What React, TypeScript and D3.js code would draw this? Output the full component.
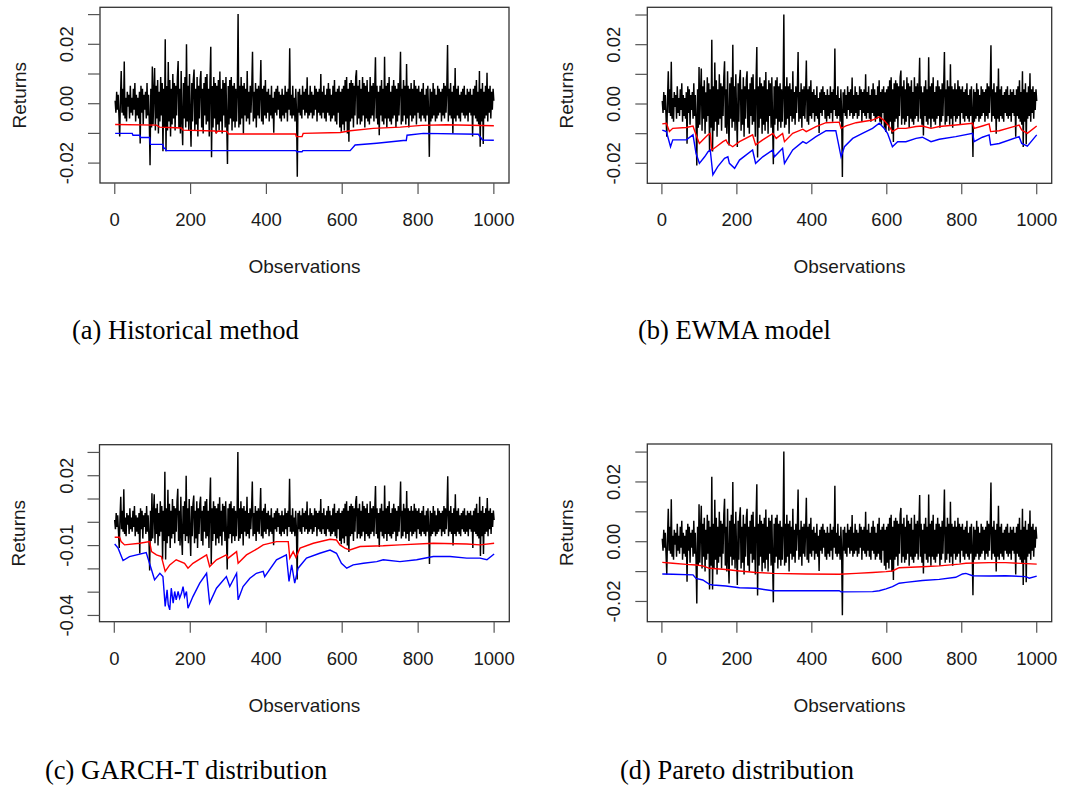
import React from "react";
import * as d3 from "d3";

const W = 1069;
const H = 785;

// Observation axis ticks
const obsTicks = [0, 200, 400, 600, 800, 1000];

// Daily returns (same series in every panel), read every ~2 observations
const returns = [
  0.001, -0.003, 0.004, -0.002, 0.003, -0.004, -0.011, 0.002, 0.011, -0.003,
  0.005, -0.004, 0.0142, -0.005, 0.002, -0.006, 0.004, -0.001, 0.003, -0.005,
  0.006, -0.003, 0.002, -0.004, 0.005, -0.002, 0.007, -0.006, 0.003, -0.004,
  0.002, -0.005, 0.004, -0.0134, 0.006, -0.003, 0.005, -0.007, 0.003, -0.002,
  0.004, -0.005, 0.007, -0.004, 0.003, -0.006, -0.0207, 0.005, -0.008, 0.0125,
  -0.007, 0.004, 0.012, -0.009, 0.006, -0.005, 0.008, -0.01, 0.004, -0.006,
  0.009, -0.004, 0.007, -0.016, 0.005, -0.008, 0.0217, -0.016, 0.006, -0.009,
  0.014, -0.006, 0.008, -0.011, 0.005, -0.007, 0.01, -0.005, 0.007, -0.009,
  0.006, -0.004, 0.009, 0.0144, -0.008, 0.005, -0.01, 0.011, -0.006, -0.014,
  0.007, -0.005, 0.009, -0.008, 0.02, -0.006, 0.006, -0.009, 0.01, -0.004,
  -0.0145, 0.007, -0.006, 0.008, 0.0115, -0.009, 0.005, -0.007, 0.009, -0.011,
  0.006, -0.005, 0.008, 0.011, -0.008, 0.005, -0.01, 0.007, -0.004, 0.009,
  -0.007, 0.01, -0.006, 0.005, -0.011, 0.008, 0.0192, -0.018, 0.006, -0.008,
  0.009, -0.005, 0.007, -0.01, 0.006, -0.007, 0.008, -0.009, 0.0108, -0.006,
  0.005, -0.01, 0.008, -0.004, 0.007, -0.008, 0.009, -0.006, -0.0203, 0.006,
  -0.007, 0.008, -0.005, 0.009, -0.009, 0.006, -0.006, 0.007, -0.008, 0.005,
  -0.006, 0.004, 0.0302, -0.008, 0.006, -0.007, 0.009, -0.005, 0.006, -0.01,
  0.007, -0.004, 0.005, -0.006, 0.011, -0.005, 0.004, -0.007, 0.006, -0.003,
  0.005, 0.0175, -0.006, 0.004, -0.005, 0.007, -0.008, 0.005, -0.004, 0.006,
  -0.005, 0.004, 0.0147, -0.006, 0.005, -0.007, 0.006, -0.004, 0.008, -0.005,
  0.004, -0.003, 0.005, -0.006, 0.003, -0.004, 0.006, -0.005, 0.002, -0.0098,
  0.004, -0.003, 0.005, -0.004, 0.006, -0.002, 0.004, -0.005, 0.003, -0.006,
  0.005, -0.004, 0.003, -0.005, 0.006, -0.003, 0.004, -0.006, 0.005, -0.002,
  0.0187, -0.004, 0.003, -0.005, 0.006, -0.004, 0.002, -0.006, 0.005, -0.003,
  -0.0246, 0.004, -0.003, 0.005, -0.004, 0.003, -0.005, 0.006, -0.002, 0.004,
  -0.004, 0.005, -0.003, 0.0089, -0.005, 0.003, -0.004, 0.006, -0.003, 0.004,
  -0.005, 0.003, -0.004, 0.006, -0.002, 0.005, -0.006, 0.004, -0.003, 0.005,
  -0.004, 0.01, -0.005, 0.004, -0.003, 0.006, -0.005, 0.003, -0.006, 0.005,
  -0.003, 0.007, -0.004, 0.005, -0.006, 0.003, -0.005, 0.006, -0.004, 0.008,
  -0.006, 0.004, -0.007, 0.005, -0.003, 0.006, -0.008, 0.004, -0.0094, 0.005,
  -0.007, 0.006, -0.009, 0.008, -0.006, 0.009, -0.01, 0.005, -0.0128, 0.007,
  -0.006, 0.008, -0.005, 0.007, -0.008, 0.006, -0.004, 0.009, 0.0113, -0.007,
  0.006, -0.005, 0.008, -0.007, 0.005, -0.006, 0.009, -0.004, 0.007, -0.008,
  0.006, -0.005, 0.008, -0.006, 0.004, -0.007, 0.009, -0.005, 0.006, -0.004,
  0.007, -0.006, 0.005, 0.0156, -0.005, 0.006, -0.007, 0.004, -0.0106, 0.006,
  -0.004, 0.008, -0.006, 0.005, -0.007, 0.0158, -0.005, 0.006, -0.008, 0.007,
  -0.005, 0.009, -0.006, 0.004, -0.007, 0.006, -0.005, 0.008, -0.004, 0.006,
  -0.008, 0.005, -0.006, 0.007, -0.004, 0.006, 0.0175, -0.007, 0.005, -0.006,
  0.008, -0.004, 0.006, -0.007, 0.0134, -0.005, 0.006, -0.008, 0.005, -0.004,
  0.007, -0.006, 0.005, -0.005, 0.008, -0.004, 0.006, -0.007, 0.005, -0.003,
  0.006, -0.005, 0.004, -0.006, 0.005, -0.004, 0.007, -0.005, 0.003, -0.006,
  0.005, -0.004, 0.006, -0.003, -0.0179, 0.005, -0.006, 0.004, -0.005, 0.007,
  -0.004, 0.005, -0.006, 0.003, -0.005, 0.006, -0.004, 0.005, -0.003, 0.004,
  -0.006, 0.005, -0.004, 0.007, -0.005, 0.006, -0.003, 0.005, 0.0198, -0.006,
  0.005, -0.004, 0.007, -0.005, 0.004, -0.01, 0.006, -0.005, 0.012, -0.006,
  0.005, -0.004, 0.006, -0.005, 0.003, -0.006, 0.004, -0.003, 0.005, -0.004,
  0.006, -0.005, 0.003, -0.004, 0.005, -0.006, 0.004, -0.003, 0.005, -0.004,
  0.003, -0.011, 0.005, -0.004, 0.006, -0.005, 0.008, -0.006, 0.004, -0.007,
  0.011, -0.0145, 0.005, -0.006, 0.007, -0.0136, 0.004, -0.005, 0.006, -0.004,
  0.0104, -0.006, 0.005, -0.003, 0.006, -0.005, 0.004, -0.002, 0.005, 0.001,
];

// VaR lines: [observation, value]
const histRed: [number, number][] = [
  [1, -0.007], [110, -0.0072], [118, -0.0079], [145, -0.008], [176, -0.0082], [180, -0.0089],
  [265, -0.0092], [268, -0.0098], [272, -0.0092], [296, -0.0093], [300, -0.0102], [477, -0.0102],
  [479, -0.0111], [494, -0.0111], [497, -0.01], [595, -0.0097], [621, -0.0091], [682, -0.0083],
  [753, -0.0079], [810, -0.0073], [875, -0.0071], [1000, -0.0074],
];
const histBlue: [number, number][] = [
  [1, -0.01], [46, -0.01], [48, -0.0106], [66, -0.0106], [68, -0.0114], [92, -0.0114],
  [94, -0.0137], [127, -0.0137], [129, -0.015], [133, -0.015], [135, -0.0158], [478, -0.0158],
  [480, -0.0162], [494, -0.0162], [496, -0.0158], [621, -0.0158], [634, -0.0139], [691, -0.0133],
  [761, -0.0124], [769, -0.0124], [771, -0.0106], [814, -0.01], [959, -0.0103], [970, -0.0122],
  [1000, -0.0123],
];
const ewmaRed: [number, number][] = [
  [1, -0.0067], [12, -0.0065], [20, -0.0093], [29, -0.0082], [65, -0.0079], [83, -0.0074],
  [91, -0.0104], [100, -0.0133], [109, -0.0121], [123, -0.0104], [129, -0.0099], [133, -0.0155],
  [145, -0.0144], [163, -0.0127], [171, -0.0121], [176, -0.0133], [189, -0.0144], [207, -0.0127],
  [242, -0.0104], [250, -0.0138], [269, -0.0121], [296, -0.0099], [305, -0.0116], [322, -0.0099],
  [327, -0.0127], [349, -0.0099], [376, -0.0085], [385, -0.0093], [411, -0.0076], [438, -0.0063],
  [473, -0.0061], [478, -0.0082], [491, -0.0074], [518, -0.0063], [562, -0.0054], [580, -0.0043],
  [593, -0.0056], [607, -0.0076], [615, -0.0093], [629, -0.0082], [651, -0.0082], [678, -0.0076],
  [695, -0.0074], [718, -0.0082], [740, -0.0076], [784, -0.0071], [829, -0.0065], [833, -0.0082],
  [855, -0.0074], [873, -0.0067], [877, -0.0093], [900, -0.009], [953, -0.0071], [960, -0.0088],
  [975, -0.0099], [1000, -0.0074],
];
const ewmaBlue: [number, number][] = [
  [1, -0.0088], [12, -0.0093], [23, -0.0144], [29, -0.0121], [65, -0.0121], [83, -0.0104],
  [91, -0.0166], [100, -0.02], [114, -0.0178], [123, -0.0161], [129, -0.0155], [136, -0.0239],
  [149, -0.0211], [167, -0.0183], [176, -0.0178], [180, -0.02], [194, -0.0217], [207, -0.0189],
  [242, -0.0155], [250, -0.02], [269, -0.0178], [296, -0.0155], [300, -0.0178], [322, -0.0149],
  [327, -0.02], [349, -0.0155], [376, -0.0127], [385, -0.0133], [411, -0.011], [438, -0.009],
  [464, -0.009], [478, -0.0178], [487, -0.0144], [509, -0.0116], [535, -0.0099], [562, -0.0082],
  [580, -0.0065], [593, -0.0082], [602, -0.0099], [615, -0.0144], [629, -0.0127], [651, -0.0127],
  [678, -0.0116], [695, -0.0112], [718, -0.0127], [740, -0.0119], [784, -0.011], [829, -0.0099],
  [833, -0.0127], [855, -0.0112], [873, -0.0104], [877, -0.0138], [900, -0.0133], [953, -0.011],
  [960, -0.0133], [975, -0.0142], [1000, -0.0104],
];
const garchRed: [number, number][] = [
  [1, -0.0064], [14, -0.0064], [18, -0.0083], [27, -0.0097], [67, -0.009], [93, -0.0083],
  [98, -0.0126], [111, -0.014], [124, -0.0147], [134, -0.0211], [146, -0.0183], [163, -0.0161],
  [185, -0.0176], [194, -0.0197], [207, -0.0176], [243, -0.014], [251, -0.019], [269, -0.0161],
  [295, -0.014], [300, -0.0154], [322, -0.0126], [326, -0.0176], [348, -0.014], [379, -0.0111],
  [392, -0.0097], [427, -0.0083], [458, -0.0083], [462, -0.0154], [471, -0.0126], [478, -0.015],
  [489, -0.0111], [524, -0.009], [568, -0.0073], [585, -0.0076], [594, -0.0097], [607, -0.0111],
  [620, -0.0119], [647, -0.0104], [708, -0.0101], [752, -0.0097], [840, -0.009], [928, -0.0093],
  [963, -0.0097], [1000, -0.009],
];
const garchBlue: [number, number][] = [
  [1, -0.0093], [10, -0.0111], [23, -0.0164], [40, -0.0147], [84, -0.013], [98, -0.0204],
  [106, -0.0247], [120, -0.0219], [128, -0.0233], [134, -0.0361], [139, -0.029], [142, -0.0354],
  [146, -0.0376], [150, -0.0283], [155, -0.0347], [159, -0.0297], [163, -0.0333], [168, -0.0297],
  [172, -0.0326], [177, -0.0304], [181, -0.0276], [185, -0.0319], [190, -0.0297], [194, -0.0369],
  [207, -0.0319], [225, -0.0261], [243, -0.0219], [251, -0.0347], [269, -0.0283], [295, -0.0233],
  [304, -0.0276], [322, -0.0219], [326, -0.0333], [339, -0.0276], [357, -0.024], [374, -0.0219],
  [392, -0.0211], [396, -0.0233], [427, -0.0161], [453, -0.014], [460, -0.0254], [467, -0.0183],
  [475, -0.0261], [484, -0.0197], [506, -0.0154], [541, -0.0133], [568, -0.0119], [585, -0.0133],
  [598, -0.0176], [612, -0.0197], [629, -0.0183], [656, -0.0176], [691, -0.0169], [708, -0.0161],
  [752, -0.0169], [796, -0.0161], [840, -0.0147], [884, -0.0147], [928, -0.0154], [963, -0.0154],
  [981, -0.0161], [1000, -0.0136],
];
const paretoRed: [number, number][] = [
  [1, -0.0069], [29, -0.0072], [65, -0.0076], [91, -0.0078], [109, -0.0081], [127, -0.0089],
  [171, -0.0093], [207, -0.0098], [251, -0.0103], [296, -0.0106], [385, -0.0108], [473, -0.0109],
  [518, -0.0106], [562, -0.0103], [598, -0.01], [615, -0.0098], [633, -0.0087], [695, -0.0084],
  [740, -0.0081], [793, -0.0075], [811, -0.0072], [873, -0.007], [917, -0.007], [1000, -0.0075],
];
const paretoBlue: [number, number][] = [
  [1, -0.0108], [29, -0.0109], [83, -0.0111], [91, -0.0123], [109, -0.0128], [127, -0.0143],
  [136, -0.0145], [171, -0.0148], [207, -0.0154], [251, -0.0156], [296, -0.0164], [385, -0.0164],
  [473, -0.0164], [478, -0.0168], [562, -0.0167], [580, -0.0164], [598, -0.0158], [615, -0.015],
  [633, -0.0139], [651, -0.0136], [695, -0.013], [740, -0.0126], [784, -0.0119], [802, -0.0108],
  [811, -0.0106], [829, -0.0114], [873, -0.0115], [917, -0.0114], [971, -0.0117], [980, -0.0122],
  [1000, -0.0115],
];

const ticksStd = [-0.02, -0.01, 0, 0.01, 0.02, 0.03];
const labelsStd = ["-0.02", "", "0.00", "", "0.02", ""];
const ticksGarch = [-0.04, -0.03, -0.02, -0.01, 0, 0.01, 0.02, 0.03];
const labelsGarch = ["-0.04", "", "", "-0.01", "", "", "0.02", ""];

const captions = ["(a) Historical method", "(b) EWMA model", "(c) GARCH-T distribution", "(d) Pareto distribution"];

interface PanelCfg {
  caption: string;
  capX: number;
  capY: number;
  left: number;
  top: number;
  right: number;
  bottom: number;
  yDomain: [number, number];
  yTicks: number[];
  yLabels: string[];
  red: [number, number][];
  blue: [number, number][];
}

const panels: PanelCfg[] = [
  { caption: captions[0], capX: 72, capY: 338.5, left: 100, top: 7.3, right: 509, bottom: 183,
    yDomain: [-0.0267, 0.03246], yTicks: ticksStd, yLabels: labelsStd, red: histRed, blue: histBlue },
  { caption: captions[1], capX: 638, capY: 338.5, left: 647.3, top: 7.3, right: 1051.7, bottom: 183.3,
    yDomain: [-0.02673, 0.0326], yTicks: ticksStd, yLabels: labelsStd, red: ewmaRed, blue: ewmaBlue },
  { caption: captions[2], capX: 45, capY: 778.5, left: 99.5, top: 444.7, right: 509.3, bottom: 621.7,
    yDomain: [-0.04268, 0.03332], yTicks: ticksGarch, yLabels: labelsGarch, red: garchRed, blue: garchBlue },
  { caption: captions[3], capX: 620, capY: 778.5, left: 647.3, top: 444, right: 1051.7, bottom: 621.7,
    yDomain: [-0.02677, 0.0327], yTicks: ticksStd, yLabels: labelsStd, red: paretoRed, blue: paretoBlue },
];

const SANS = "'Liberation Sans', Arial, Helvetica, sans-serif";
const SERIF = "'Liberation Serif', 'Times New Roman', Times, serif";
const TEXT = "#1a1a1a";

function PanelView({ p }: { p: PanelCfg }) {
  const x = d3.scaleLinear().domain([-38.96, 1039.96]).range([p.left, p.right]);
  const y = d3.scaleLinear().domain(p.yDomain).range([p.bottom, p.top]);
  const line = d3
    .line<[number, number]>()
    .x((d) => x(d[0]))
    .y((d) => y(d[1]));
  const n = returns.length;
  const retPts: [number, number][] = returns.map((v, i) => [1 + (i * 999) / (n - 1), v]);
  const midY = (p.top + p.bottom) / 2;
  const midX = (p.left + p.right) / 2;
  return (
    <g>
      <path d={line(retPts) || ""} fill="none" stroke="#000" strokeWidth={1.45} strokeLinejoin="miter" />
      <path d={line(p.red) || ""} fill="none" stroke="#ff0000" strokeWidth={1.4} />
      <path d={line(p.blue) || ""} fill="none" stroke="#0000ff" strokeWidth={1.4} />
      <rect x={p.left} y={p.top} width={p.right - p.left} height={p.bottom - p.top} fill="none" stroke="#333" strokeWidth={1.3} />
      {obsTicks.map((t) => (
        <g key={"x" + t}>
          <line x1={x(t)} x2={x(t)} y1={p.bottom} y2={p.bottom + 11} stroke="#555" strokeWidth={1.2} />
          <text x={x(t)} y={p.bottom + 43} textAnchor="middle" fontFamily={SANS} fontSize={18.5} fill={TEXT}>
            {t}
          </text>
        </g>
      ))}
      {p.yTicks.map((t, i) => (
        <g key={"y" + t}>
          <line x1={p.left - 12} x2={p.left} y1={y(t)} y2={y(t)} stroke="#555" strokeWidth={1.2} />
          {p.yLabels[i] ? (
            <text
              transform={`translate(${p.left - 27},${y(t)}) rotate(-90)`}
              textAnchor="middle"
              fontFamily={SANS}
              fontSize={18.5}
              fill={TEXT}
            >
              {p.yLabels[i]}
            </text>
          ) : null}
        </g>
      ))}
      <text x={midX} y={p.bottom + 90} textAnchor="middle" fontFamily={SANS} fontSize={19} fill={TEXT}>
        Observations
      </text>
      <text
        transform={`translate(${p.left - 74.5},${midY}) rotate(-90)`}
        textAnchor="middle"
        fontFamily={SANS}
        fontSize={19}
        fill={TEXT}
      >
        Returns
      </text>
      <text x={p.capX} y={p.capY} fontFamily={SERIF} fontSize={26.5} fill="#000">
        {p.caption}
      </text>
    </g>
  );
}

export default function App() {
  return (
    <svg
      width={W}
      height={H}
      viewBox={`0 0 ${W} ${H}`}
      style={{ position: "absolute", left: 0, top: 0, background: "#fff" }}
    >
      <rect x={0} y={0} width={W} height={H} fill="#fff" />
      {panels.map((p) => (
        <PanelView key={p.caption} p={p} />
      ))}
    </svg>
  );
}
